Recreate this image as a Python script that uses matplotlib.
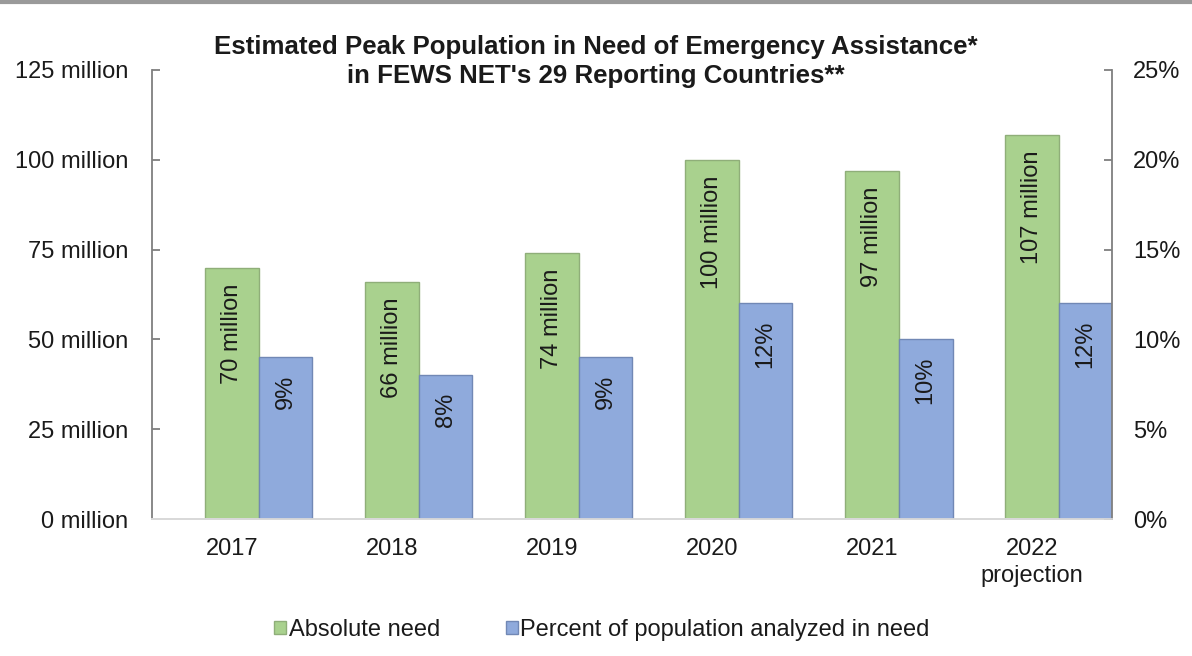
import numpy as np
import matplotlib.pyplot as plt
from matplotlib.lines import Line2D

plt.rcParams['font.family'] = ['Liberation Sans', 'DejaVu Sans']

years = ["2017", "2018", "2019", "2020", "2021", "2022\nprojection"]
absolute_need = [70, 66, 74, 100, 97, 107]      # million people
percent_need = [9, 8, 9, 12, 10, 12]            # percent of analyzed population
left_ticks = [0, 25, 50, 75, 100, 125]
right_ticks = [0, 5, 10, 15, 20, 25]

GREEN = "#a9d18e"
GREEN_EDGE = "#8fae79"
BLUE = "#8faadc"
BLUE_EDGE = "#7188b5"
AXIS = "#7f7f7f"
TXT = "#1a1a1a"

fig = plt.figure(figsize=(11.92, 6.56), dpi=100)
ax = fig.add_axes([0.1275, 0.2088, 0.8055, 0.6845])
ax2 = ax.twinx()

x = np.arange(len(years))
w = 0.335

g = ax.bar(x, absolute_need, w, color=GREEN, edgecolor=GREEN_EDGE, linewidth=1.0,
           label="Absolute need", zorder=2)
b = ax2.bar(x + w, percent_need, w, color=BLUE, edgecolor=BLUE_EDGE, linewidth=1.0,
            label="Percent of population analyzed in need", zorder=2)

for xi, v in zip(x, absolute_need):
    ax.text(xi, v - 4.4, f"{v} million", rotation=90, ha="center", va="top",
            fontsize=17, color=TXT)
for xi, v in zip(x, percent_need):
    ax2.text(xi + w, v - 0.95, f"{v}%", rotation=90, ha="center", va="top",
             fontsize=17, color=TXT)

ax.set_xlim(-0.5, len(years) - 0.5)
ax.set_ylim(0, 125)
ax2.set_ylim(0, 25)
ax.set_yticks(left_ticks)
ax.set_yticklabels([f"{t} million" for t in left_ticks])
ax2.set_yticks(right_ticks)
ax2.set_yticklabels([f"{t}%" for t in right_ticks])
ax.set_xticks(x)
ax.set_xticklabels(years, linespacing=1.25)

for a in (ax, ax2):
    a.spines["top"].set_visible(False)
    a.spines["left"].set_color(AXIS)
    a.spines["right"].set_color(AXIS)
    a.spines["bottom"].set_color("#d9d9d9")
    a.spines["left"].set_linewidth(1.3)
    a.spines["right"].set_linewidth(1.3)
    a.spines["bottom"].set_linewidth(1.3)
    a.tick_params(axis="y", direction="in", length=6, width=1.3, color=AXIS,
                  labelsize=17, labelcolor=TXT)
ax.tick_params(axis="y", pad=17)
ax2.tick_params(axis="y", pad=15)
ax.tick_params(axis="x", length=0, labelsize=17, labelcolor=TXT, pad=14)
ax2.spines["left"].set_visible(False)
ax.spines["right"].set_visible(False)

fig.text(0.5, 0.906, "Estimated Peak Population in Need of Emergency Assistance*\n"
         "in FEWS NET's 29 Reporting Countries**",
         ha="center", va="center", fontsize=18.6, fontweight="bold",
         color=TXT, linespacing=1.28)

handles = [g, b]
fig.legend(handles, [h.get_label() for h in handles], loc="center",
           bbox_to_anchor=(0.505, 0.04), ncol=2, frameon=False, fontsize=17,
           handlelength=0.5, handleheight=0.5, handletextpad=0.1,
           columnspacing=2.8, labelcolor=TXT)

# frame line at the very top of the screenshot
fig.add_artist(Line2D([0, 1], [0.997, 0.997], transform=fig.transFigure,
                      color="#9a9a9a", linewidth=3))

fig.savefig("out.png", dpi=100)
